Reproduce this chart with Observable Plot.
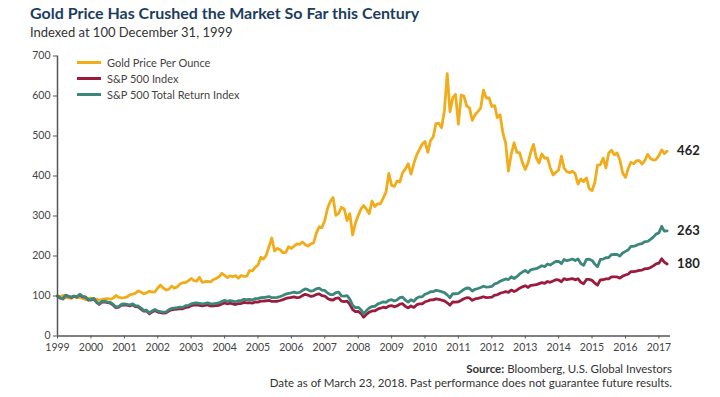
<!DOCTYPE html>
<html>
<head>
<meta charset="utf-8">
<script src="https://cdn.jsdelivr.net/npm/d3@7"></script>
<script src="https://cdn.jsdelivr.net/npm/@observablehq/plot@0.6"></script>
<style>
  html, body { margin: 0; padding: 0; background: #fff; }
  body { width: 720px; height: 397px; position: relative; overflow: hidden; font-family: Lato, "Open Sans", sans-serif; }
  .abs { position: absolute; line-height: 1; white-space: nowrap; }
  #title { left: 30px; top: 4.6px; font-size: 16px; font-weight: 700; color: #1d3d5e; }
  #subtitle { left: 30px; top: 26px; font-size: 13px; color: #333; }
  #chart { position: absolute; left: 0; top: 45px; }
  #legend { position: absolute; left: 77px; top: 54px; font-size: 11px; color: #444; }
  .lg { height: 16px; display: flex; align-items: center; }
  .sw { width: 24px; height: 3px; margin-right: 6px; }
  .foot { right: 48px; font-size: 11.5px; color: #333; }
</style>
</head>
<body>
<div id="title" class="abs"></div>
<div id="subtitle" class="abs"></div>
<div id="chart"></div>
<div id="legend"></div>
<div id="source" class="abs foot" style="top:363px"></div>
<div id="note" class="abs foot" style="top:377px"></div>
<script>
// ---- Text ----
const titleText = "Gold Price Has Crushed the Market So Far this Century";
const subtitleText = "Indexed at 100 December 31, 1999";
const sourceLabel = "Source:";
const sourceText = "Bloomberg, U.S. Global Investors";
const noteText = "Date as of March 23, 2018. Past performance does not guarantee future results.";

// ---- Series names & colours ----
const seriesNames = ["Gold Price Per Ounce", "S&P 500 Index", "S&P 500 Total Return Index"];
const seriesColors = ["#f0ac1a", "#9a1b3c", "#3c877c"];

// ---- Axis ticks ----
const xTickLabels = ["1999","2000","2001","2002","2003","2004","2005","2006","2007","2008","2009","2010","2011","2012","2013","2014","2015","2016","2017"];
const yTicks = [0, 100, 200, 300, 400, 500, 600, 700];

// ---- Monthly index values: Dec 1999 (=100), then month-ends Jan 2000 .. Mar 2018 ----
const gold = [100,
 97.9,101.4,96.2,95.2,94.1,99.7,95.8,95.8,94.5,91.3,93.4,94.8,
 91.7,92.4,89.3,91.3,92.7,93.4,92.0,94.5,101.4,96.5,95.2,95.8,
 97.6,102.8,104.5,106.6,112.8,110.0,105.2,108.3,112.1,109.7,110.4,120.1,
 127.3,120.1,115.6,116.6,124.9,119.7,122.5,129.8,133.2,133.6,137.7,143.9,
 138.4,137.0,146.7,134.3,136.0,136.7,135.3,141.2,143.9,148.1,156.7,151.6,
 146.0,150.5,148.1,150.9,144.3,151.2,148.8,149.8,163.7,162.6,171.6,177.5,
 196.9,192.4,201.4,223.2,245,212.5,219.0,215.6,207.6,209.0,223.5,218.7,
 224.9,230.1,229.1,234.9,228.4,224.9,230.1,232.9,257.1,273.0,270.9,288.6,
 319.4,336.0,346,301.7,306.6,321.8,317.6,288.6,305.9,252.6,282.0,301.0,
 318.0,326.0,317.0,305.9,337.4,323.5,330.4,330.4,344.6,359.9,406.6,376.5,
 374.0,387.2,385.1,408.3,418.0,430.8,404.8,431.1,452.2,465.7,479.6,486.2,
 459.2,488.2,497.9,531.1,531.5,520.8,563.3,656,560.6,595.8,604.2,529.8,
 602,600,575,571,539,553,561,570,614.5,595,595.5,573.7,
 575.8,546.0,552.9,508.7,482.4,412.5,454.7,483.0,458.8,458.1,433.6,416.6,
 432.9,458.8,479,445.7,432.5,455.0,444.6,445.0,420.8,402.8,409.0,414.9,
 449.8,420.1,410.7,408.3,412.1,405.5,379.9,392.7,385.8,395.2,368.5,363.3,
 384.4,427.0,428.0,444.6,420.4,456.7,464.4,452.9,457.4,440.1,407.6,396.5,
 419.4,434.3,430.8,438.1,438.4,429.8,439.1,454.0,443.9,439.8,441.2,450.9,
 465.4,456.1,462];

const spx = [100,
 94.9,93,102,98.8,96.7,99,97.4,103.3,97.8,97.3,89.5,89.8,
 93,84.4,79,85,85.5,83.3,82.4,77.2,70.8,72.1,77.5,78.1,
 76.9,75.3,78.1,73.3,72.6,67.4,62.1,62.3,55.5,60.3,63.7,59.9,
 58.3,57.2,57.7,62.4,65.6,66.4,67.4,68.6,67.8,71.5,72,75.7,
 77,77.9,76.6,75.3,76.3,77.7,75,75.1,75.9,76.9,79.9,82.5,
 80.4,81.9,80.4,78.7,81.1,81.1,84,83,83.6,82.2,85,84.9,
 87.1,87.2,88.1,89.2,86.4,86.5,86.9,88.8,90.9,93.8,95.4,96.5,
 97.9,95.7,96.7,100.9,104.2,102.3,99,100.3,103.9,105.4,100.8,99.9,
 93.9,90.6,90,94.3,95.3,87.1,86.2,87.3,79.4,65.9,61,61.5,
 56.2,47,54.3,59.4,62.6,62.6,67.2,69.5,71.9,70.5,74.6,75.9,
 73.1,75.1,79.6,80.8,74.1,70.2,75,71.4,77.7,80.5,80.4,85.6,
 87.5,90.3,90.2,92.8,91.5,89.9,87.9,83,77,85.3,84.9,85.6,
 89.3,93,95.8,95.1,89.2,92.7,93.9,95.8,98.1,96.1,96.4,97.1,
 102,103.1,106.8,108.8,111,109.3,114.8,111.1,114.5,119.6,122.9,125.8,
 121.4,126.5,127.4,128.2,130.9,133.4,131.4,136.3,134.2,137.3,140.7,140.1,
 135.8,143.3,140.7,142,143.4,140.4,143.2,134.2,130.7,141.5,141.6,139.1,
 132,127,140.2,140.6,142.7,142.9,148,147.8,147.6,144.7,149.7,152.4,
 155.1,160.9,160.8,162.3,164.2,164.9,168.1,168.3,171.4,175.3,180.2,182,
 193,184.7,180];

const spxTR = [100,
 95,93,102,99,97,100,98,104,99,98,91,91,
 94.2,85.6,80.3,86.4,87.0,84.9,84.0,78.9,72.4,73.8,79.4,80.1,
 79.0,77.5,80.4,75.6,75.0,69.7,64.3,64.6,57.6,62.7,66.3,62.4,
 60.9,59.8,60.4,65.4,68.9,69.9,71.0,72.4,71.6,75.6,76.3,80.3,
 81.9,82.9,81.7,80.3,81.6,83.1,80.4,80.6,81.6,82.7,86.1,89.0,
 86.9,88.7,87.2,85.5,88.2,88.4,91.7,90.7,91.5,90.2,93.4,93.4,
 96.0,96.2,97.4,98.7,95.7,96.0,96.6,98.8,101.4,104.8,106.7,108.1,
 109.8,107.6,108.8,113.7,117.6,115.7,112.1,113.7,118.0,119.9,114.8,114.0,
 107.3,103.7,103.3,108.4,109.8,100.5,99.6,101.1,92.2,76.6,71.1,71.8,
 65.7,55.1,63.7,69.9,73.8,73.9,79.6,82.4,85.5,84.0,89.1,90.8,
 87.6,90.1,95.7,97.3,89.4,84.8,90.8,86.6,94.4,98.0,98.0,104.5,
 107.0,110.6,110.7,114.1,112.6,110.8,108.6,102.8,95.5,105.9,105.6,106.7,
 111.4,116.3,120.0,119.4,112.2,116.9,118.6,121.2,124.4,122.0,122.7,123.8,
 130.3,132.0,136.9,139.7,142.7,140.9,148.2,143.7,148.4,155.2,159.9,163.9,
 158.4,165.5,166.9,168.2,172.0,175.7,173.3,180.0,177.5,182.1,186.8,186.3,
 180.9,191.3,188.1,190.1,192.4,188.7,192.7,181.0,176.6,191.4,192.0,188.9,
 179.7,173.1,191.5,192.3,195.6,196.2,203.6,203.7,203.8,200.1,207.5,211.5,
 215.6,224.1,224.3,226.7,229.9,231.2,236.0,236.8,241.5,247.3,254.8,257.7,
 274,262,263];

// ---- Build table ----
const start = new Date(Date.UTC(2000, 0, 1));
const dateAt = k => d3.utcMonth.offset(start, k);
const seriesValues = [gold, spx, spxTR];
const rows = seriesValues.map((vals, s) => vals.map((v, k) => ({date: dateAt(k), value: v, series: seriesNames[s]})));
const lastPoints = rows.map(r => r[r.length - 1]);
const xTickDates = xTickLabels.map((_, i) => new Date(Date.UTC(2000 + i, 0, 1)));

// ---- Text ----
document.getElementById("title").textContent = titleText;
document.getElementById("subtitle").textContent = subtitleText;
document.getElementById("source").innerHTML = "<b>" + sourceLabel + "</b> " + sourceText;
document.getElementById("note").textContent = noteText;
const legend = document.getElementById("legend");
seriesNames.forEach((n, i) => {
  const row = document.createElement("div");
  row.className = "lg";
  const sw = document.createElement("span");
  sw.className = "sw";
  sw.style.background = seriesColors[i];
  const tx = document.createElement("span");
  tx.textContent = n;
  row.appendChild(sw); row.appendChild(tx);
  legend.appendChild(row);
});

// ---- Chart ----
const chart = Plot.plot({
  width: 720,
  height: 320,
  marginTop: 10.5,
  marginBottom: 29.5,
  marginLeft: 57,
  marginRight: 50,
  style: {fontFamily: "Lato, sans-serif", fontSize: "10.5px", color: "#444", background: "transparent", overflow: "visible"},
  x: {type: "utc", domain: [start, new Date(Date.UTC(2018, 4, 8))]},
  y: {domain: [0, 700]},
  color: {domain: seriesNames, range: seriesColors},
  marks: [
    Plot.axisY({ticks: yTicks, tickSize: 4, tickPadding: 3, label: null, stroke: "#555"}),
    Plot.axisX({ticks: xTickDates, tickFormat: d => xTickLabels[d.getUTCFullYear() - 2000], tickSize: 3, tickPadding: 5, label: null, stroke: "#555"}),
    Plot.line(rows[0], {x: "date", y: "value", stroke: "series", strokeWidth: 2.8}),
    Plot.line(rows[1], {x: "date", y: "value", stroke: "series", strokeWidth: 2.8}),
    Plot.line(rows[2], {x: "date", y: "value", stroke: "series", strokeWidth: 2.8}),
    Plot.ruleY([0], {stroke: "#555", strokeWidth: 1.5}),
    Plot.ruleX([start], {stroke: "#555", strokeWidth: 1.5}),
    Plot.text(lastPoints, {x: "date", y: "value", text: d => d3.format(".0f")(d.value), dx: 10, textAnchor: "start", fontSize: 13, fontWeight: 700, fill: "#222"})
  ]
});
document.getElementById("chart").appendChild(chart);
</script>
</body>
</html>
